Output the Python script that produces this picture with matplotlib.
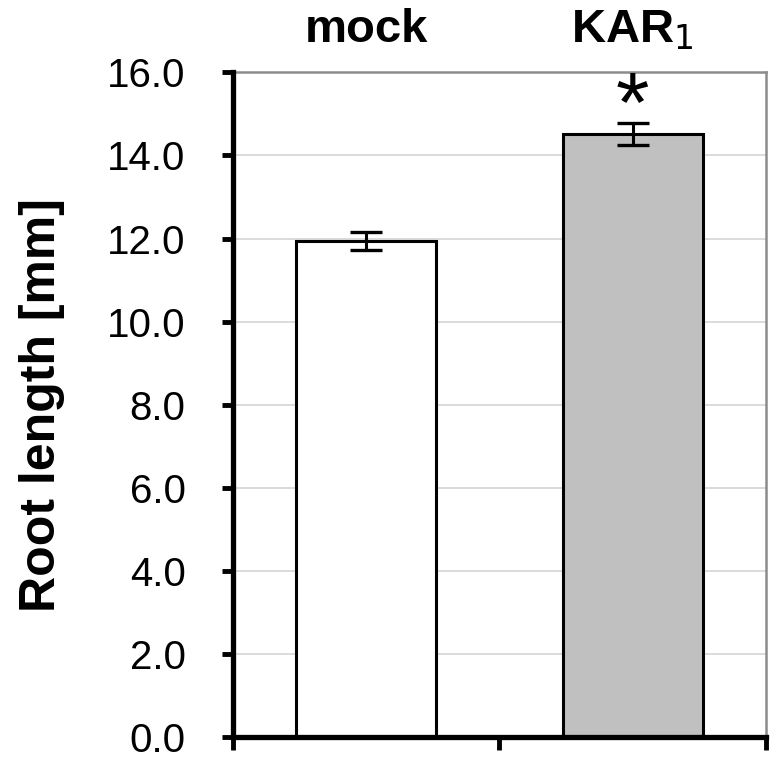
import matplotlib
matplotlib.use("Agg")
import matplotlib.pyplot as plt
import numpy as np

categories = ["mock", "KAR$_1$"]
values = [11.95, 14.52]
errors = [0.22, 0.26]
colors = ["#ffffff", "#c0c0c0"]
yticks = [0, 2, 4, 6, 8, 10, 12, 14, 16]
ylabel = "Root length [mm]"
sig_marks = ["", "*"]

plt.rcParams['font.family'] = ['Liberation Sans', 'DejaVu Sans']

fig = plt.figure(figsize=(7.76, 7.61), dpi=100)
ax = fig.add_axes([0.300, 0.031, 0.687, 0.874])

x = np.arange(len(categories))
ax.bar(x, values, width=0.525, color=colors, edgecolor="black", linewidth=2.2, zorder=3)
ax.errorbar(x, values, yerr=errors, fmt="none", ecolor="black", elinewidth=2.2,
            capsize=11.5, capthick=2.4, zorder=4)

ax.set_xlim(-0.5, len(categories) - 0.5)
ax.set_ylim(0, 16)
ax.set_yticks(yticks)
ax.set_yticklabels([f"{t:.1f}" for t in yticks], fontsize=29)
ax.set_xticks([-0.5, 0.5, 1.5])
ax.set_xticklabels([])
ax.grid(axis="y", color="#d4d4d4", linewidth=1.2, zorder=0)
ax.set_axisbelow(True)

for s in ["left", "bottom"]:
    ax.spines[s].set_linewidth(3.8)
    ax.spines[s].set_color("black")
    ax.spines[s].set_zorder(5)
for s in ["top", "right"]:
    ax.spines[s].set_linewidth(1.8)
    ax.spines[s].set_color("#8c8c8c")

ax.tick_params(axis="y", direction="out", length=8, width=3.5, pad=26)
ax.tick_params(axis="x", direction="out", length=9, width=3.5)

ax.set_ylabel(ylabel, fontsize=36, fontweight="bold", labelpad=30)

for xi, cat in zip(x, categories):
    ax.text(xi, 1.03, cat, transform=ax.get_xaxis_transform(), ha="center", va="bottom",
            fontsize=34, fontweight="bold")

for xi, v, e, m in zip(x, values, errors, sig_marks):
    if m:
        ax.text(xi, v + e + 0.32, m, ha="center", va="center", fontsize=62)

fig.savefig("out.png", dpi=100, facecolor="white")
